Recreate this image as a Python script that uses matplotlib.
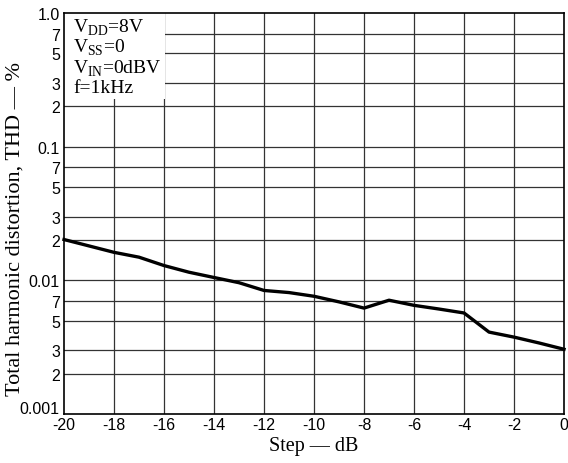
import matplotlib
matplotlib.use('Agg')
import matplotlib.pyplot as plt
import matplotlib.transforms as mtransforms
from matplotlib.patches import Rectangle
import numpy as np

# donnees
step_db = [-20, -18, -17, -16, -15, -14, -13, -12, -11, -10, -9, -8, -7, -6, -5, -4, -3, -2, -1, 0]
thd_pct = [0.0202, 0.0162, 0.0149, 0.0129, 0.0115, 0.0105, 0.0096, 0.0084, 0.0081, 0.0076,
           0.0069, 0.0062, 0.0071, 0.0065, 0.0061, 0.0057, 0.0041, 0.00376, 0.0034, 0.00305]

y_ticks = [0.001, 0.002, 0.003, 0.005, 0.007, 0.01, 0.02, 0.03, 0.05, 0.07,
           0.1, 0.2, 0.3, 0.5, 0.7, 1.0]
y_labels = ['0.001', '2', '3', '5', '7', '0.01', '2', '3', '5', '7',
            '0.1', '2', '3', '5', '7', '1.0']
x_ticks = list(range(-20, 1, 2))

conditions = [r'V$_{\rm DD}$=8V', r'V$_{\rm SS}$=0', r'V$_{\rm IN}$=0dBV', 'f=1kHz']

plt.rcParams['mathtext.fontset'] = 'custom'
plt.rcParams['mathtext.rm'] = 'Liberation Serif'

fig = plt.figure(figsize=(5.68, 4.64), dpi=100)
ax = fig.add_axes([0.1127, 0.1056, 0.8803, 0.8642])

ax.set_yscale('log')
ax.set_xlim(-20, 0)
ax.set_ylim(0.001, 1.0)

# grille
for yv in y_ticks[1:-1]:
    ax.axhline(yv, color='#333333', linewidth=0.9, zorder=1)
for xv in x_ticks[1:-1]:
    ax.axvline(xv, color='#333333', linewidth=0.9, zorder=1)

ax.plot(step_db, thd_pct, color='black', linewidth=2.4, zorder=3, clip_on=False)

ax.set_yticks(y_ticks)
ax.set_yticklabels(y_labels, fontsize=11.5, family='Liberation Sans')
ax.yaxis.set_minor_locator(matplotlib.ticker.NullLocator())
ax.set_xticks(x_ticks)
ax.set_xticklabels([str(v) for v in x_ticks], fontsize=11.5, family='Liberation Sans')
ax.tick_params(axis='y', length=0, pad=3)
ax.tick_params(axis='x', length=0, pad=2)

# 0.001 un peu au-dessus de l'axe
lab0 = ax.get_yticklabels()[0]
lab0.set_transform(lab0.get_transform() + mtransforms.ScaledTranslation(0, 5/72, fig.dpi_scale_trans))

for s in ax.spines.values():
    s.set_linewidth(1.2)
    s.set_color('black')

ax.set_xlabel('Step — dB', fontsize=14.5, family='Liberation Serif', labelpad=3)
ax.set_ylabel('Total harmonic distortion, THD — %', fontsize=16, family='Liberation Serif',
              va='center')
ax.yaxis.set_label_coords(-0.098, 0.465)

# cartouche conditions
box = Rectangle((0, 0.786), 0.202, 0.214, transform=ax.transAxes, facecolor='white',
                edgecolor='none', zorder=2)
ax.add_patch(box)
y0 = 0.966
for i, t in enumerate(conditions):
    ax.text(0.018, y0 - i * 0.051, t, transform=ax.transAxes, fontsize=14,
            family='Liberation Serif', va='center', ha='left', zorder=4)

plt.savefig('out.png', dpi=100)
